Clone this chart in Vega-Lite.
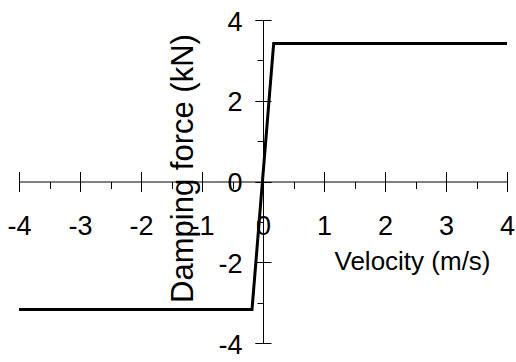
{
  "$schema": "https://vega.github.io/schema/vega-lite/v6.json",
  "autosize": {"type": "none"},
  "padding": {"left": 19, "top": 20, "right": 9, "bottom": 19},
  "width": 488,
  "height": 323,
  "background": "white",
  "config": {
    "view": {"stroke": null},
    "axis": {
      "grid": false,
      "domainColor": "black",
      "tickColor": "black",
      "labelColor": "black",
      "titleColor": "black",
      "labelFont": "Liberation Sans",
      "titleFont": "Liberation Sans",
      "titleFontWeight": "normal",
      "domainWidth": 1,
      "tickWidth": 1,
      "labelFlush": false,
      "labelOverlap": false,
      "labelBound": false
    }
  },
  "data": {
    "values": [
      {"velocity": -4, "force": -3.17},
      {"velocity": -0.18, "force": -3.17},
      {"velocity": 0.175, "force": 3.42},
      {"velocity": 4, "force": 3.42}
    ]
  },
  "resolve": {"axis": {"x": "independent", "y": "independent"}},
  "layer": [
    {
      "mark": {"type": "line", "color": "black", "strokeWidth": 3, "strokeJoin": "miter"},
      "encoding": {
        "x": {
          "field": "velocity", "type": "quantitative",
          "scale": {"domain": [-4, 4], "nice": false, "zero": false},
          "axis": {
            "orient": "bottom", "offset": -161.5,
            "values": [-4, -3, -2, -1, 0, 1, 2, 3, 4],
            "labelExpr": "'' + datum.value",
            "tickSize": 10,
            "labelFontSize": 27, "labelPadding": 22, "labelBaseline": "top",
            "title": "Velocity (m/s)", "titleFontSize": 26,
            "titleX": 393, "titleY": 87.5, "titleBaseline": "alphabetic", "titleAlign": "center"
          }
        },
        "y": {
          "field": "force", "type": "quantitative",
          "scale": {"domain": [-4, 4], "nice": false, "zero": false},
          "axis": {
            "orient": "left", "offset": -244,
            "values": [-4, -2, 0, 2, 4],
            "labelExpr": "'' + datum.value",
            "tickSize": 8,
            "labelFontSize": 27, "labelPadding": 13, "labelBaseline": "middle", "labelOffset": 2,
            "title": "Damping force (kN)", "titleFontSize": 31, "titleAngle": 270,
            "titleX": -71, "titleY": 148, "titleBaseline": "alphabetic", "titleAlign": "center"
          }
        }
      }
    },
    {
      "mark": {"type": "line", "opacity": 0},
      "encoding": {
        "x": {
          "field": "velocity", "type": "quantitative",
          "scale": {"domain": [-4, 4], "nice": false, "zero": false},
          "axis": {
            "orient": "bottom", "offset": -171.5,
            "values": [-4, -3, -2, -1, 0, 1, 2, 3, 4],
            "tickSize": 20, "domain": false, "labels": false, "title": null
          }
        },
        "y": {
          "field": "force", "type": "quantitative",
          "scale": {"domain": [-4, 4], "nice": false, "zero": false},
          "axis": {
            "orient": "left", "offset": -252,
            "values": [-4, -2, 0, 2, 4],
            "tickSize": 16, "domain": false, "labels": false, "title": null
          }
        }
      }
    },
    {
      "mark": {"type": "line", "opacity": 0},
      "encoding": {
        "x": {
          "field": "velocity", "type": "quantitative",
          "scale": {"domain": [-4, 4], "nice": false, "zero": false},
          "axis": {
            "orient": "bottom", "offset": -161.5,
            "values": [-3.5, -2.5, -1.5, -0.5, 0.5, 1.5, 2.5, 3.5],
            "tickSize": 7, "domain": false, "labels": false, "title": null
          }
        },
        "y": {
          "field": "force", "type": "quantitative",
          "scale": {"domain": [-4, 4], "nice": false, "zero": false},
          "axis": {
            "orient": "left", "offset": -244,
            "values": [-3, -1, 1, 3],
            "tickSize": 6, "domain": false, "labels": false, "title": null
          }
        }
      }
    }
  ]
}
